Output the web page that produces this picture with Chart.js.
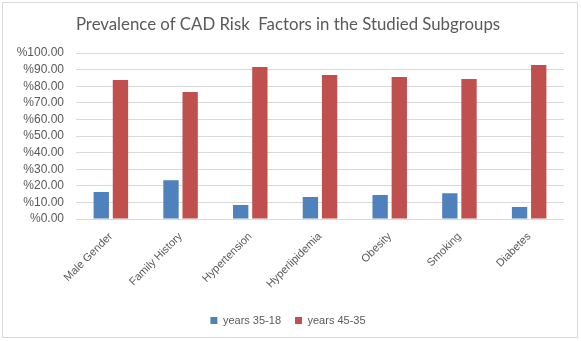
<!DOCTYPE html>
<html>
<head>
<meta charset="utf-8">
<script src="https://cdn.jsdelivr.net/npm/chart.js@4/dist/chart.umd.min.js"></script>
<style>
  html, body { margin: 0; padding: 0; background: #fff; }
  #wrap { width: 581px; height: 341px; }
</style>
</head>
<body>
<div id="wrap"><canvas id="cadChart" width="581" height="341"></canvas></div>
<script>
// --- Dados ---
const categorias = ['Male Gender', 'Family History', 'Hypertension', 'Hyperlipidemia', 'Obesity', 'Smoking', 'Diabetes'];
const anos35a18 = [16.3, 23.4, 8.4, 13.2, 14.4, 15.6, 7.2];
const anos45a35 = [83.8, 76.6, 91.6, 86.8, 85.6, 84.4, 92.8];
const rotulosSeries = ['years 35-18', 'years 45-35'];

const cinza = '#595959';
const linhaGrade = '#d9d9d9';

// --- Borda externa do gráfico ---
const bordaPlugin = {
    id: 'borda',
    beforeDraw(chart) {
        const ctx = chart.ctx;
        ctx.save();
        ctx.fillStyle = '#fff';
        ctx.fillRect(0, 0, chart.width, chart.height);
        ctx.strokeStyle = linhaGrade;
        ctx.lineWidth = 1;
        ctx.strokeRect(2.5, 2.5, 575, 335);
        ctx.restore();
    }
};

new Chart(document.getElementById('cadChart'), {
    type: 'bar',
    data: {
        labels: categorias,
        datasets: [
            { label: rotulosSeries[0], data: anos35a18, backgroundColor: '#4f81bd' },
            { label: rotulosSeries[1], data: anos45a35, backgroundColor: '#c0504d' }
        ]
    },
    options: {
        responsive: false,
        animation: false,
        devicePixelRatio: 1,
        categoryPercentage: 0.55,
        barPercentage: 0.8,
        layout: { padding: { left: 12, right: 17, top: 0, bottom: 5 } },
        plugins: {
            title: {
                display: true,
                text: 'Prevalence of CAD Risk  Factors in the Studied Subgroups',
                color: cinza,
                font: { family: 'Lato', size: 16.8, weight: 'normal', lineHeight: 1.2 },
                padding: { top: 15, bottom: 18 }
            },
            legend: {
                position: 'bottom',
                labels: {
                    color: cinza,
                    font: { family: 'Liberation Sans', size: 11 },
                    boxWidth: 7,
                    boxHeight: 7,
                    padding: 14
                }
            },
            tooltip: { enabled: false }
        },
        scales: {
            x: {
                grid: { display: false },
                border: { display: false },
                ticks: {
                    color: cinza,
                    font: { family: 'Liberation Sans', size: 11 },
                    minRotation: 45,
                    maxRotation: 45,
                    autoSkip: false
                },
                afterFit(scale) { scale.height = 82; }
            },
            y: {
                min: 0,
                max: 100,
                grid: { color: linhaGrade, drawTicks: false },
                border: { display: false },
                ticks: {
                    stepSize: 10,
                    autoSkip: false,
                    color: cinza,
                    padding: 12,
                    font: { family: 'Liberation Sans', size: 12 },
                    callback: v => '%' + v.toFixed(2)
                },
                afterFit(scale) { scale.width = 64; }
            }
        }
    },
    plugins: [bordaPlugin]
});
</script>
</body>
</html>
